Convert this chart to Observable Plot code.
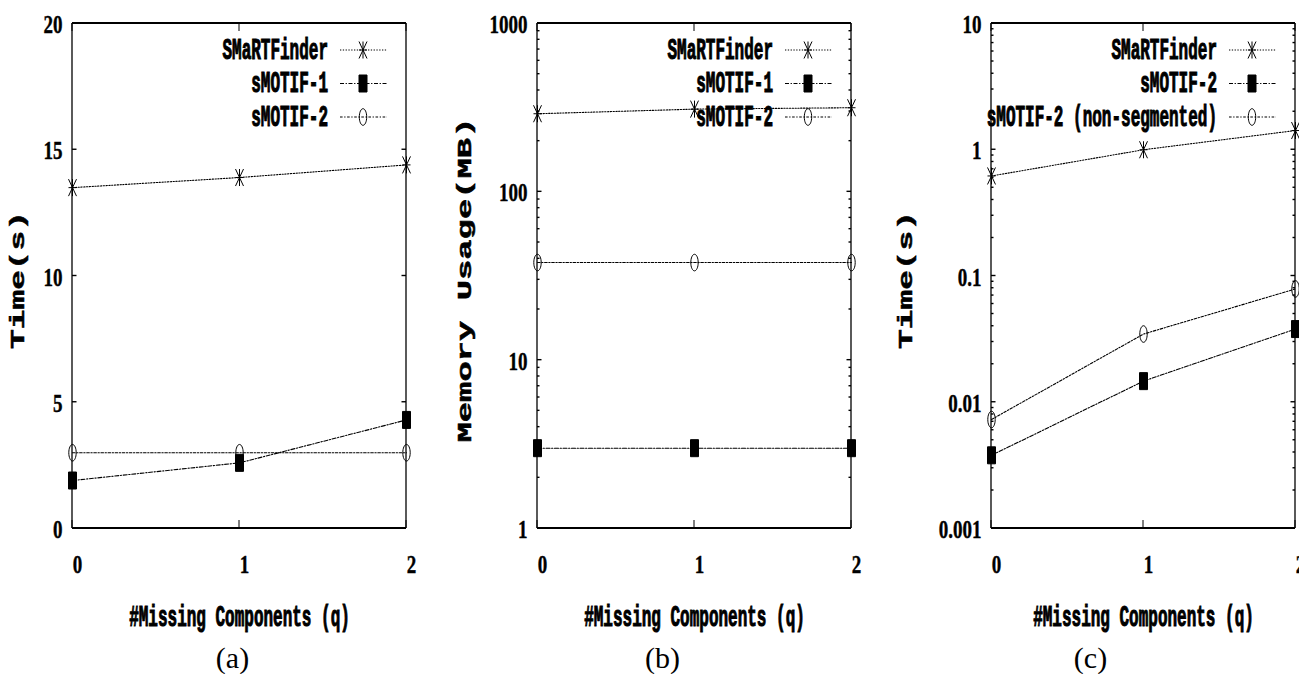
<!DOCTYPE html>
<html><head><meta charset="utf-8">
<script src="https://cdn.jsdelivr.net/npm/d3@7"></script>
<script src="https://cdn.jsdelivr.net/npm/@observablehq/plot@0.6"></script>
<style>
body{margin:0;background:#fff;}
#wrap{position:relative;width:1299px;height:674px;overflow:hidden;background:#fff;}
#wrap svg{position:absolute;top:0;overflow:visible;max-width:none;}
</style></head><body><div id="wrap"></div>
<script>
// ---------- data ----------
const q = [0, 1, 2];
const xTicks = [0, 1, 2];
const xTickLabels = ["0", "1", "2"];
const xLabel = "#Missing Components (q)";
const captions = ["(a)", "(b)", "(c)"];

// panel (a): time (s)
const timeA_SMaRTFinder = [13.5, 13.9, 14.4];
const timeA_sMOTIF1 = [1.9, 2.6, 4.3];
const timeA_sMOTIF2 = [3.0, 3.0, 3.0];
const yTicksA = [0, 5, 10, 15, 20];
const yTickLabelsA = ["0", "5", "10", "15", "20"];

// panel (b): memory usage (MB), log
const memB_SMaRTFinder = [291, 310, 316];
const memB_sMOTIF1 = [3, 3, 3];
const memB_sMOTIF2 = [38, 38, 38];
const yTicksB = [1, 10, 100, 1000];
const yTickLabelsB = ["1", "10", "100", "1000"];

// panel (c): time (s), log
const timeC_SMaRTFinder = [0.62, 1.0, 1.42];
const timeC_sMOTIF2 = [0.0038, 0.0147, 0.038];
const timeC_nonSeg = [0.0073, 0.0347, 0.079];
const yTicksC = [0.001, 0.01, 0.1, 1, 10];
const yTickLabelsC = ["0.001", "0.01", "0.1", "1", "10"];

// ---------- styles ----------
const MONO = "'Liberation Mono', 'DejaVu Sans Mono', monospace";
const SERIF = "'Liberation Serif', 'DejaVu Serif', serif";
const STRETCH = 1.8;      // vertical stretch of the narrow bold labels
const TICK_STRETCH = 1.38;
const symAsterisk = {draw(c){ c.moveTo(0,-8.5); c.lineTo(0,8.5); c.moveTo(-4,-8.5); c.lineTo(4,8.5); c.moveTo(4,-8.5); c.lineTo(-4,8.5); c.moveTo(-4,0); c.lineTo(4,0); }};
const symSquare = {draw(c){ c.rect(-4,-8.5,8,17); }};
const symEllipse = {draw(c){ const rx=3.7, ry=8.3, k=0.5523;
  c.moveTo(rx,0); c.bezierCurveTo(rx,k*ry,k*rx,ry,0,ry); c.bezierCurveTo(-k*rx,ry,-rx,k*ry,-rx,0);
  c.bezierCurveTo(-rx,-k*ry,-k*rx,-ry,0,-ry); c.bezierCurveTo(k*rx,-ry,rx,-k*ry,rx,0); c.closePath(); }};
const styleDot = {symbol: symAsterisk, fill: "none", dash: "1.3,1.5"};
const styleDash1 = {symbol: symSquare, fill: "#000", dash: "4,1.6,1.3,1.6"};
const styleDash2 = {symbol: symEllipse, fill: "none", dash: "2.6,1.6,1.3,1.6"};

function logMinor(lo, hi){ const out=[]; for(let e=lo;e<hi;e++) for(let m=2;m<=9;m++) out.push(m*Math.pow(10,e)); return out; }

function panel(o){
  const marks = [];
  // axes frame + inward ticks
  marks.push((index, scales, values, dim) => {
    const g = d3.create("svg:g").attr("stroke","#000").attr("fill","none");
    const L = dim.marginLeft, R = dim.width - dim.marginRight, T = dim.marginTop, B = dim.height - dim.marginBottom;
    for (const v of xTicks){ const x = scales.x(v);
      g.append("line").attr("x1",x).attr("x2",x).attr("y1",B).attr("y2",B-8).attr("stroke-width",1);
      g.append("line").attr("x1",x).attr("x2",x).attr("y1",T).attr("y2",T+8).attr("stroke-width",1); }
    for (const v of o.yTicks){ const y = scales.y(v);
      g.append("line").attr("x1",L).attr("x2",L+4.5).attr("y1",y).attr("y2",y).attr("stroke-width",1.4);
      g.append("line").attr("x1",R).attr("x2",R-4.5).attr("y1",y).attr("y2",y).attr("stroke-width",1.4); }
    for (const v of (o.yMinor||[])){ const y = scales.y(v);
      g.append("line").attr("x1",L).attr("x2",L+2.5).attr("y1",y).attr("y2",y).attr("stroke-width",1.4);
      g.append("line").attr("x1",R).attr("x2",R-2.5).attr("y1",y).attr("y2",y).attr("stroke-width",1.4); }
    g.append("line").attr("x1",L).attr("x2",R).attr("y1",T).attr("y2",T).attr("stroke-width",2);
    g.append("line").attr("x1",L).attr("x2",R).attr("y1",B).attr("y2",B).attr("stroke-width",2);
    g.append("line").attr("x1",L).attr("x2",L).attr("y1",T).attr("y2",B).attr("stroke-width",1.3);
    g.append("line").attr("x1",R).attr("x2",R).attr("y1",T).attr("y2",B).attr("stroke-width",1.3);
    return g.node();
  });
  for (const s of o.series){
    const rows = q.map((x,i)=>({q:x, v:s.values[i]}));
    marks.push(Plot.line(rows, {x:"q", y:"v", stroke:"#000", strokeWidth:1.1, strokeDasharray:s.style.dash}));
    marks.push(Plot.dot(rows, {x:"q", y:"v", symbol:s.style.symbol, stroke:"#000", fill:s.style.fill, strokeWidth:1}));
  }
  marks.push(Plot.axisX({ticks: xTicks, tickFormat: d => xTickLabels[xTicks.indexOf(d)], tickSize:0, tickPadding:29, dx:5, label:null,
    fontFamily: SERIF, fontSize: 19}));
  marks.push(Plot.axisY({ticks: o.yTicks, tickFormat: d => o.yTickLabels[o.yTicks.indexOf(d)], tickSize:0, tickPadding:10, dy:1, label:null,
    fontFamily: SERIF, fontSize: 19}));
  marks.push(Plot.text([xLabel], {frameAnchor:"bottom", dy:94, lineAnchor:"bottom"}));
  marks.push(Plot.text([o.yLabel], {frameAnchor:"left", rotate:-90, textAnchor:"middle", dx:o.yLabelDx, dy:4, fontSize:21}));
  marks.push(Plot.text([o.caption], {frameAnchor:"bottom", dx:o.captionDx, dy:139, lineAnchor:"bottom", fontFamily:SERIF, fontWeight:"normal", fontSize:30}));
  // legend
  marks.push((index, scales, values, dim) => {
    const g = d3.create("svg:g");
    const R = dim.width - dim.marginRight;
    o.series.forEach((s,i) => {
      const y = dim.marginTop + 27 + 33.5*i;
      g.append("text").attr("x",R-78).attr("y",y).attr("dy","0.36em").attr("text-anchor","end").attr("fill","#000").text(s.name);
      g.append("line").attr("x1",R-66).attr("x2",R-19).attr("y1",y).attr("y2",y).attr("stroke","#000").attr("stroke-width",1.1).attr("stroke-dasharray",s.style.dash);
      g.append("path").attr("transform",`translate(${R-43},${y})`).attr("d", d3.symbol().type(s.style.symbol)())
        .attr("stroke","#000").attr("stroke-width",1).attr("fill",s.style.fill);
    });
    return g.node();
  });
  const svg = Plot.plot({
    width: o.width, height: 674,
    marginLeft: o.marginLeft, marginRight: o.marginRight, marginTop: 23, marginBottom: 146,
    x: {domain: [0, 2]},
    y: o.yType === "log" ? {type:"log", domain:o.yDomain} : {domain:o.yDomain},
    style: {fontFamily: MONO, fontSize: "16px", fontWeight: "bold", background: "transparent", color: "#000", overflow: "visible"},
    marks
  });
  svg.style.left = o.left + "px";
  document.getElementById("wrap").appendChild(svg);
  d3.select(svg).selectAll("text").each(function(){
    const t = this.textContent;
    if (t === o.caption) return;
    this.style.stroke = "#000";
    if (t === o.yLabel) {
      this.style.strokeWidth = "0.5px";
      this.setAttribute("textLength", o.yLabelLen); this.setAttribute("lengthAdjust","spacingAndGlyphs"); return; }
    const isTick = !!this.closest('g[aria-label$="tick label"]');
    this.style.strokeWidth = isTick ? "0.3px" : "0.6px";
    const k = isTick ? TICK_STRETCH : STRETCH;
    const bb = this.getBBox();
    const cy = bb.y + bb.height / 2;
    const tr = this.getAttribute("transform") || "";
    this.setAttribute("transform", `${tr} translate(0,${cy}) scale(1,${k}) translate(0,${-cy})`);
  });
}

panel({left:0, width:430, marginLeft:72, marginRight:24, yType:"linear", yDomain:[0,20],
  yTicks:yTicksA, yTickLabels:yTickLabelsA, yLabel:"Time(s)", yLabelDx:-55, yLabelLen:138,
  caption:captions[0], captionDx:-7,
  series:[{name:"SMaRTFinder", values:timeA_SMaRTFinder, style:styleDot},
          {name:"sMOTIF-1", values:timeA_sMOTIF1, style:styleDash1},
          {name:"sMOTIF-2", values:timeA_sMOTIF2, style:styleDash2}]});

panel({left:430, width:430, marginLeft:107, marginRight:9, yType:"log", yDomain:[1,1000],
  yTicks:yTicksB, yTickLabels:yTickLabelsB, yMinor:logMinor(0,3), yLabel:"Memory Usage(MB)", yLabelDx:-73.5, yLabelLen:325,
  caption:captions[1], captionDx:-32,
  series:[{name:"SMaRTFinder", values:memB_SMaRTFinder, style:styleDot},
          {name:"sMOTIF-1", values:memB_sMOTIF1, style:styleDash1},
          {name:"sMOTIF-2", values:memB_sMOTIF2, style:styleDash2}]});

panel({left:860, width:439, marginLeft:131, marginRight:4, yType:"log", yDomain:[0.001,10],
  yTicks:yTicksC, yTickLabels:yTickLabelsC, yMinor:logMinor(-3,1), yLabel:"Time(s)", yLabelDx:-86, yLabelLen:138,
  caption:captions[2], captionDx:-53,
  series:[{name:"SMaRTFinder", values:timeC_SMaRTFinder, style:styleDot},
          {name:"sMOTIF-2", values:timeC_sMOTIF2, style:styleDash1},
          {name:"sMOTIF-2 (non-segmented)", values:timeC_nonSeg, style:styleDash2}]});
</script></body></html>
